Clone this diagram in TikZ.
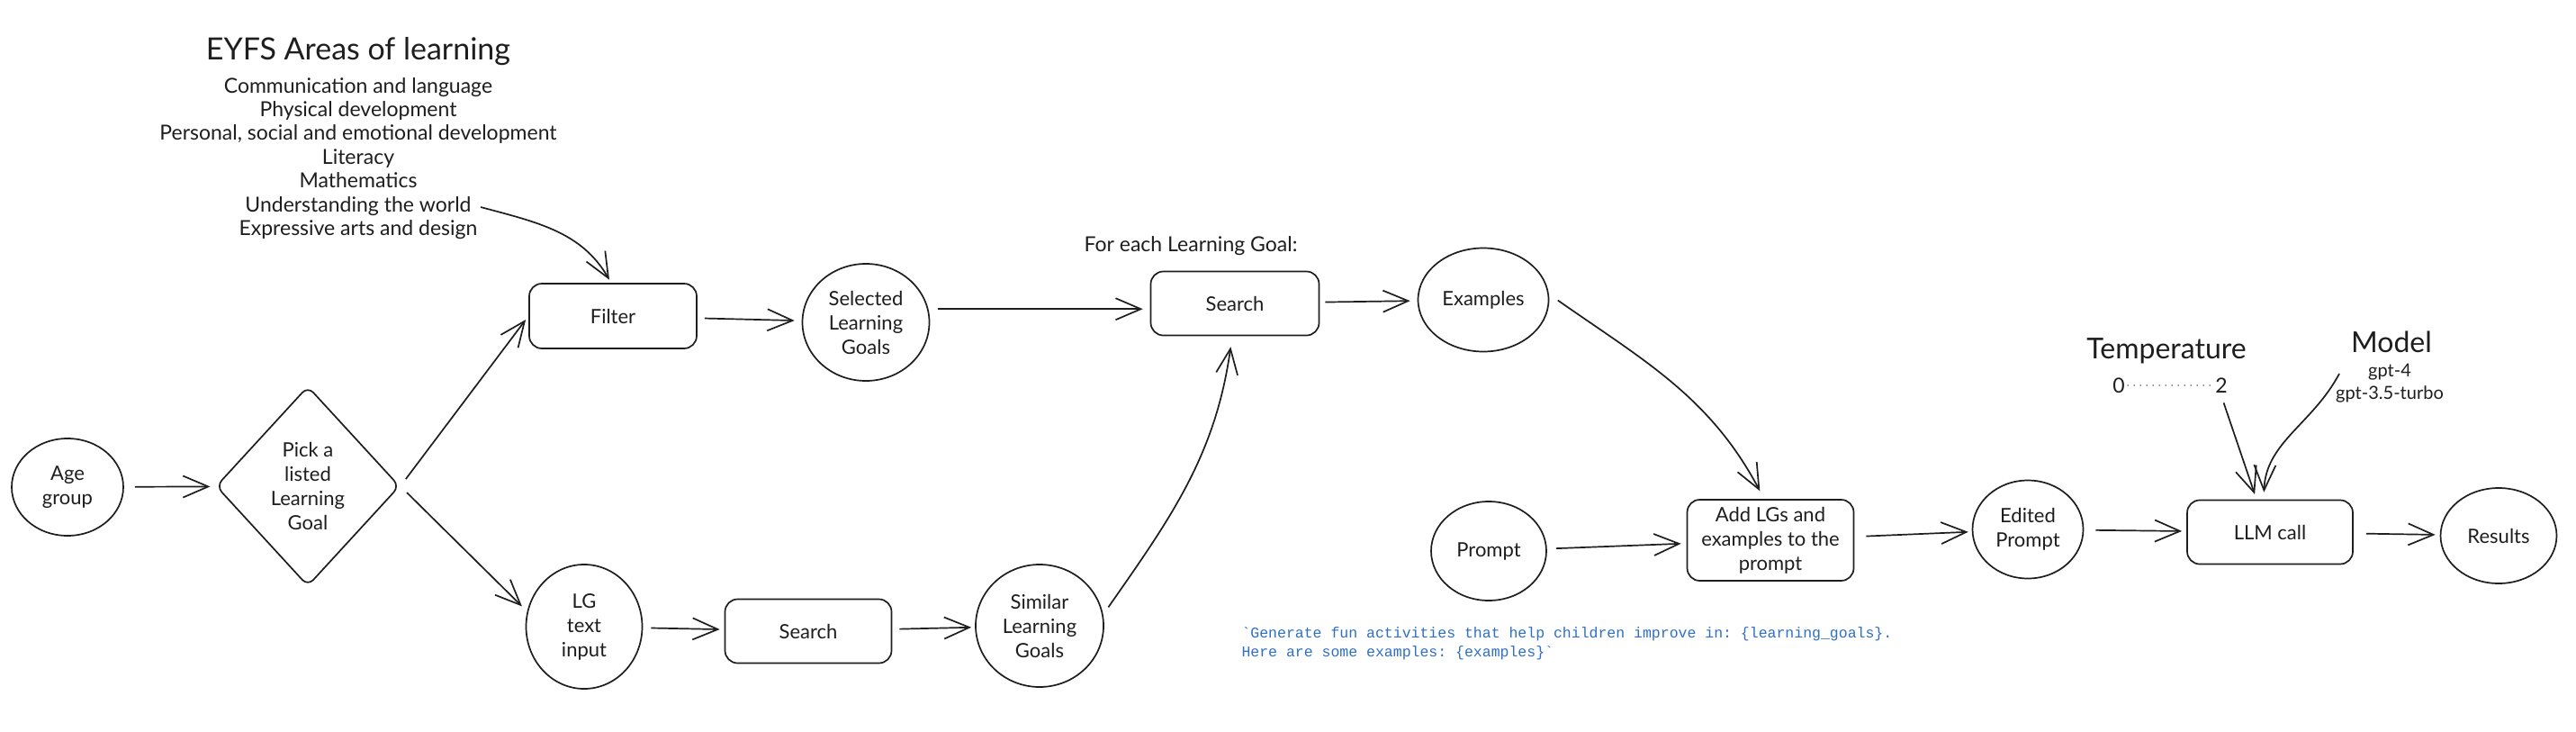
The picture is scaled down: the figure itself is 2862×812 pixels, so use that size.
\documentclass[tikz,border=0pt]{standalone}
\usepackage{fontspec}
\setmainfont{Lato}
\setmonofont{Liberation Mono}
\usetikzlibrary{shapes.geometric,arrows.meta}
\definecolor{ink}{HTML}{1E1E1E}
\definecolor{codeblue}{HTML}{2F6FC4}
\newcommand\ndfont{\fontsize{22}{27}\selectfont}
\newcommand\lstfont{\fontsize{23}{26.4}\selectfont}
\newcommand\ttlfont{\fontsize{34}{38}\selectfont}
\newcommand\tmpfont{\fontsize{32}{38}\selectfont}
\newcommand\gptfont{\fontsize{20}{25}\selectfont}
\newcommand\cdfont{\fontsize{16.5}{21}\selectfont\ttfamily}
\tikzset{
  every node/.style={text=ink},
  box/.style={draw=ink, line width=1.7pt, rounded corners=14pt, align=center, font=\ndfont, inner sep=2pt},
  blob/.style={ellipse, draw=ink, line width=1.7pt, inner sep=0pt, align=center, font=\ndfont},
  arr/.style={draw=ink, line width=1.7pt, -{Straight Barb[length=28pt,width=24pt,line width=1.7pt]}},
}
\begin{document}
\begin{tikzpicture}[x=1pt,y=-1pt]
\fill[white] (0,0) rectangle (2862,812);
\useasboundingbox (0,0) rectangle (2862,812);

% texts
\node[font=\ttlfont] (title) at (398,57) {EYFS Areas of learning};
\node[font=\lstfont, align=center] (areas) at (398,176) {Communication and language\\Physical development\\Personal, social and emotional development\\Literacy\\Mathematics\\Understanding the world\\Expressive arts and design};
\coordinate (uw) at (534,230);
\node[font=\lstfont] (foreach) at (1323,273) {For each Learning Goal:};
\node[font=\tmpfont] (temp) at (2407,390) {Temperature};
\node[font=\lstfont] (t0) at (2354,428) {0};
\node[font=\lstfont] (t2) at (2468,428) {2};
\node[font=\tmpfont] (model) at (2657,380) {Model};
\node[font=\gptfont, align=center] (gpt) at (2655,426) {gpt-4\\gpt-3.5-turbo};
\coordinate (mstart) at (2599,415);
\node[font=\cdfont, text=codeblue, align=left, anchor=west] (code) at (1376,715) {\char96 Generate fun activities that help children improve in: \{learning\_goals\}.\\Here are some examples: \{examples\}\char96};

% nodes
\node[blob, minimum width=124pt, minimum height=108pt] (age) at (75,541) {Age\\group};
\node[draw=ink, line width=1.7pt, diamond, rounded corners=9pt, inner sep=0pt, minimum width=204pt, minimum height=222pt, align=center, font=\ndfont] (pick) at (342,540) {Pick a\\listed\\Learning\\Goal};
\node[box, minimum width=186pt, minimum height=72pt] (filter) at (681,351) {Filter};
\node[blob, minimum width=141pt, minimum height=130pt] (sel) at (962,358) {Selected\\Learning\\Goals};
\node[box, minimum width=187pt, minimum height=71pt] (search1) at (1372,337) {Search};
\node[blob, minimum width=145pt, minimum height=115pt] (ex) at (1648,333) {Examples};
\node[blob, minimum width=129pt, minimum height=138pt] (lg) at (649,696) {LG\\text\\input};
\node[box, minimum width=185pt, minimum height=71pt] (search2) at (898,701) {Search};
\node[blob, minimum width=142pt, minimum height=136pt] (sim) at (1155,695) {Similar\\Learning\\Goals};
\node[blob, minimum width=128pt, minimum height=110pt] (prompt) at (1654,612) {Prompt};
\node[box, minimum width=185pt, minimum height=90pt] (add) at (1967,600) {Add LGs and\\examples to the\\prompt};
\node[blob, minimum width=123pt, minimum height=109pt] (edited) at (2253,588) {Edited\\Prompt};
\node[box, minimum width=184pt, minimum height=71pt] (llm) at (2522,591) {LLM call};
\node[blob, minimum width=129pt, minimum height=106pt] (res) at (2776,595) {Results};

% dotted scale
\draw[ink, line width=1.5pt, line cap=round, dash pattern=on 0pt off 7pt] (t0) -- (t2);

% connectors
\draw[arr, shorten >=4pt] (uw) to[out=-15,in=120] ([xshift=-2pt]filter.north);
\draw[arr, shorten <=12pt, shorten >=6pt] (age) -- (pick);
\draw[arr, shorten <=10pt, shorten >=5pt] (pick.east) -- (filter.west);
\draw[arr, shorten <=10pt, shorten >=8pt] (pick.east) -- (lg.165);
\draw[arr, shorten <=8pt, shorten >=8pt] (filter) -- (sel);
\draw[arr, shorten <=10pt, shorten >=8pt] (sel.12) -- (sel.12 -| search1.west);
\draw[arr, shorten <=6pt, shorten >=8pt] (search1) -- (ex);
\draw[arr, shorten <=12pt, shorten >=10pt] (ex.5) to[out=-35,in=118] ([xshift=-7pt]add.north);
\draw[arr, shorten <=10pt, shorten >=6pt] (prompt) -- (add);
\draw[arr, shorten <=13pt, shorten >=4pt] (add) -- (edited);
\draw[arr, shorten <=13pt, shorten >=5pt] (edited) -- (llm);
\draw[arr, shorten <=14pt, shorten >=5pt] (llm) -- (res);
\draw[arr, shorten <=9pt, shorten >=5pt] (lg) -- (search2);
\draw[arr, shorten <=8pt, shorten >=4pt] (search2) -- (sim);
\draw[arr, shorten <=10pt, shorten >=12pt] (sim.10) to[out=55,in=-98] ([xshift=-3pt]search1.south);
\draw[arr, shorten <=8pt, shorten >=6pt] (t2.south) -- ([xshift=-15pt]llm.north);
\draw[arr, shorten >=8pt] (mstart) to[out=-118,in=88] ([xshift=-7pt]llm.north);
\end{tikzpicture}
\end{document}
